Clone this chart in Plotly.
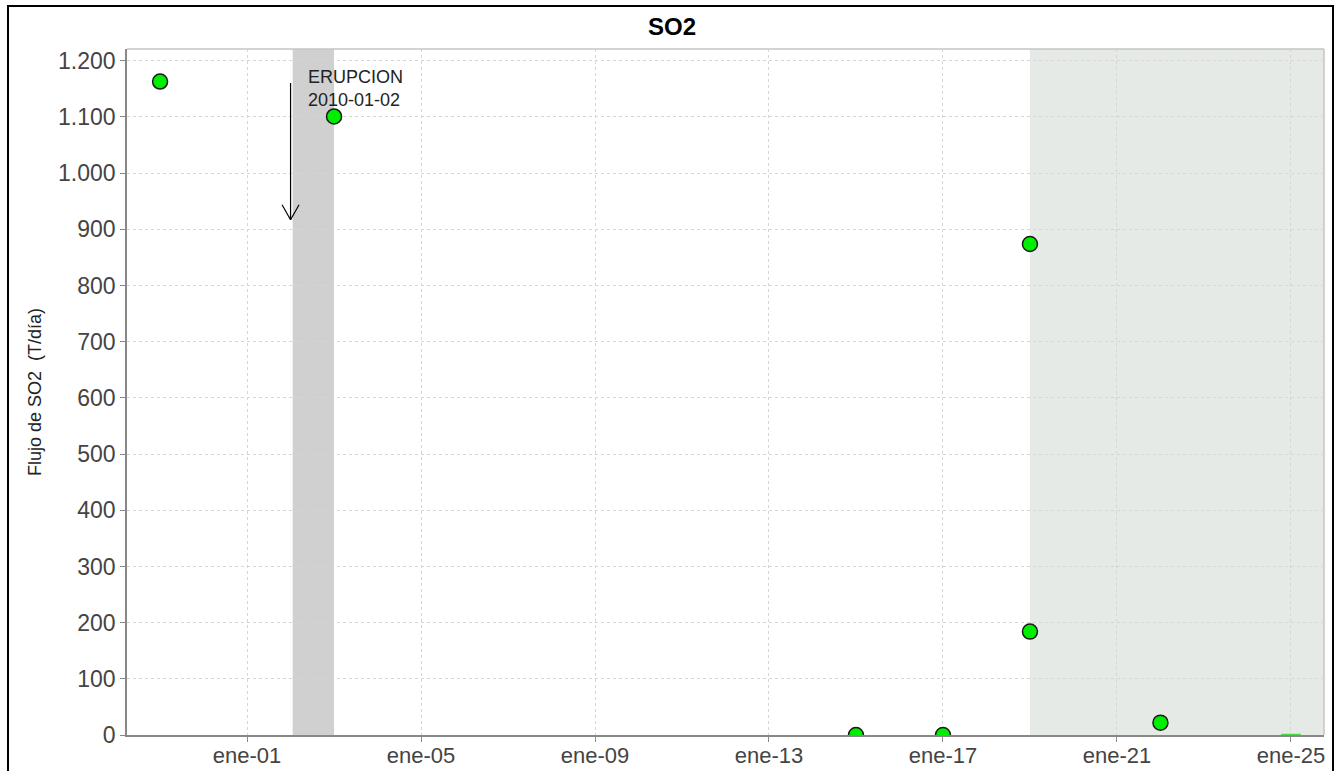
import plotly.graph_objects as go

# ---- data ----
dates = ["2009-12-30", "2010-01-03", "2010-01-15", "2010-01-17",
         "2010-01-19", "2010-01-19", "2010-01-22"]
so2_flux = [1163, 1101, 0, 0, 874, 184, 22]

extra_dates = ["2010-01-25"]
extra_flux = [0]

tick_dates = ["2010-01-01", "2010-01-05", "2010-01-09", "2010-01-13",
              "2010-01-17", "2010-01-21", "2010-01-25"]
tick_labels = ["ene-01", "ene-05", "ene-09", "ene-13", "ene-17", "ene-21", "ene-25"]

eruption_date = "2010-01-02"
eruption_label = "ERUPCION<br>2010-01-02"
eruption_band = ["2010-01-02 01:10", "2010-01-03 00:00"]
recent_band_start = "2010-01-19"
arrow_tip, arrow_tail = 917, 1163

x_range = ["2009-12-29 05:45", "2010-01-25 18:15"]
y_range = [0, 1221]

W, H = 1336, 771
ML, MR, MT, MB = 127, 12, 49, 36
PW, PH = W - ML - MR, H - MT - MB
FONT = "Liberation Sans, Arial, sans-serif"

fig = go.Figure()
fig.add_trace(go.Scatter(
    x=dates, y=so2_flux, mode="markers",
    marker=dict(size=15, color="#00ee00", line=dict(color="#1a1a1a", width=1.5)),
    cliponaxis=True, showlegend=False))
fig.add_trace(go.Scatter(
    x=extra_dates, y=extra_flux, mode="markers",
    marker=dict(symbol="line-ew", size=14, color="#44dd44",
                line=dict(color="#44dd44", width=2.5)),
    cliponaxis=True, showlegend=False))

shapes = [
    dict(type="rect", xref="x", yref="paper", x0=eruption_band[0], x1=eruption_band[1],
         y0=0, y1=1, fillcolor="#d0d0d0", line=dict(width=0), layer="below"),
    dict(type="rect", xref="x", yref="paper", x0=recent_band_start, x1=x_range[1],
         y0=0, y1=1, fillcolor="#e6eae6", line=dict(width=0), layer="below"),
    # top and right border of plot area
    dict(type="line", xref="paper", yref="paper", x0=0, x1=1, y0=1, y1=1,
         line=dict(color="#c4c4c4", width=1.5), layer="below"),
    dict(type="line", xref="paper", yref="paper", x0=1, x1=1, y0=0, y1=1,
         line=dict(color="#c4c4c4", width=1.5), layer="below"),
    # open arrowhead of the eruption arrow
    dict(type="line", xref="x", yref="y", xsizemode="pixel", ysizemode="pixel",
         xanchor=eruption_date, yanchor=arrow_tip, x0=-8.5, y0=15, x1=0, y1=0,
         line=dict(color="black", width=1.2), layer="above"),
    dict(type="line", xref="x", yref="y", xsizemode="pixel", ysizemode="pixel",
         xanchor=eruption_date, yanchor=arrow_tip, x0=8.5, y0=15, x1=0, y1=0,
         line=dict(color="black", width=1.2), layer="above"),
    # outer frame
    dict(type="rect", xref="paper", yref="paper",
         x0=(8 - ML) / PW, x1=(1333 - ML) / PW,
         y0=-0.2, y1=(MT + PH - 6) / PH,
         line=dict(color="black", width=2), fillcolor="rgba(0,0,0,0)", layer="above"),
]

annotations = [
    dict(x=eruption_date, y=arrow_tip, xref="x", yref="y",
         ax=eruption_date, ay=arrow_tail, axref="x", ayref="y",
         text="", showarrow=True, arrowhead=0, arrowwidth=1.2,
         arrowcolor="black", standoff=0, startstandoff=0),
    dict(x=eruption_date, y=arrow_tail, xref="x", yref="y", xshift=15, yshift=-7,
         text=eruption_label, showarrow=False, xanchor="left", yanchor="middle",
         align="left", font=dict(family=FONT, size=18, color="#222")),
    dict(x=(35 - ML) / PW, y=0.5, xref="paper", yref="paper",
         text="Flujo de SO2\u00a0\u00a0(T/día)", textangle=-90, showarrow=False,
         xanchor="center", yanchor="middle",
         font=dict(family=FONT, size=18, color="#222")),
]

fig.update_layout(
    width=W, height=H,
    margin=dict(l=ML, r=MR, t=MT, b=MB, pad=0, autoexpand=False),
    paper_bgcolor="white", plot_bgcolor="white",
    separators=",.",
    title=dict(text="<b>SO2</b>", x=672 / W, xref="container", xanchor="center",
               y=1 - 27 / H, yref="container", yanchor="middle",
               font=dict(family=FONT, size=24, color="black")),
    shapes=shapes, annotations=annotations,
    font=dict(family=FONT),
)
fig.update_xaxes(
    type="date", range=x_range, tickvals=tick_dates, ticktext=tick_labels,
    automargin=False,
    showgrid=True, gridcolor="#d6d6d6", griddash="3px,3px", gridwidth=1,
    showline=True, linecolor="#888888", linewidth=1.5,
    ticks="outside", ticklen=5, tickcolor="#888888", ticklabelstandoff=-5,
    tickfont=dict(size=22, color="#444444"), zeroline=False)
fig.update_yaxes(
    range=y_range, dtick=100, tick0=0, tickformat=",d",
    automargin=False,
    showgrid=True, gridcolor="#d6d6d6", griddash="3px,3px", gridwidth=1,
    showline=True, linecolor="#888888", linewidth=1.5,
    ticks="outside", ticklen=5, tickcolor="#888888",
    tickfont=dict(size=23, color="#444444"), zeroline=False)

fig.write_html("out.html",
               config={"displayModeBar": False},
               post_script="document.body.style.margin='0px';"
                           "document.body.style.overflow='hidden';")
